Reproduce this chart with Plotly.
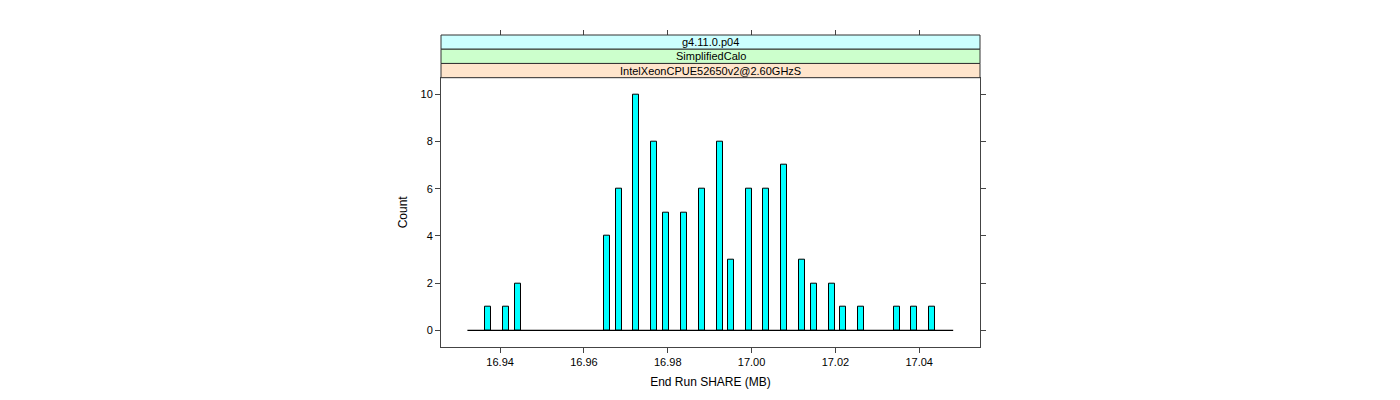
import plotly.graph_objects as go

# ---- data ----
bin_centers = [16.9372, 16.9415, 16.9443, 16.9654, 16.9683, 16.9725, 16.9768,
               16.9796, 16.9838, 16.9881, 16.9924, 16.9952, 16.9993, 17.0035,
               17.0078, 17.0121, 17.0149, 17.0191, 17.0219, 17.0262, 17.0346,
               17.0388, 17.0431]
counts = [1, 1, 2, 4, 6, 10, 8, 5, 5, 6, 8, 3, 6, 6, 7, 3, 2, 2, 1, 1, 1, 1, 1]
bin_width = 0.00143
breaks_range = [16.9322, 17.0481]
x_ticks = [16.94, 16.96, 16.98, 17.00, 17.02, 17.04]
x_tick_labels = ["16.94", "16.96", "16.98", "17.00", "17.02", "17.04"]
y_ticks = [0, 2, 4, 6, 8, 10]
strip_labels = ["g4.11.0.p04", "SimplifiedCalo", "IntelXeonCPUE52650v2@2.60GHzS"]
strip_colors = ["#CCFFFF", "#CCFFCC", "#FFE5CC"]
x_title = "End Run SHARE (MB)"
y_title = "Count"

xr = [16.9259, 17.0545]
yr = [-0.7, 10.7]

W, H = 1400, 400
off = 8  # page body margin
ml, mr, mt, mb = 441 - off, 1400 + off - 980, 35 - off, 400 + off - 347
plot_h = H - mt - mb
panel_top_px = 77.7 - off
ydom_top = (H - mb - panel_top_px) / plot_h

font = "Liberation Sans, Arial, sans-serif"
axcol = "#444444"

fig = go.Figure()
fig.add_trace(go.Scatter(x=breaks_range, y=[0, 0], mode="lines",
                         line=dict(color="black", width=1.2),
                         showlegend=False, hoverinfo="skip"))
fig.add_trace(go.Bar(x=bin_centers, y=counts, width=bin_width,
                     marker=dict(color="#00FFFF", line=dict(color="black", width=1)),
                     showlegend=False))
fig.add_trace(go.Scatter(x=[], y=[], xaxis="x2", yaxis="y2", showlegend=False))

fig.update_layout(
    width=W, height=H,
    margin=dict(l=ml, r=mr, t=mt, b=mb),
    paper_bgcolor="white", plot_bgcolor="white",
    font=dict(family=font, size=11, color="black"),
    bargap=0,
    xaxis=dict(range=xr, domain=[0, 1], tickvals=x_ticks, ticktext=x_tick_labels,
               ticks="outside", ticklen=5, tickcolor=axcol, showgrid=False,
               zeroline=False, showline=True, linecolor=axcol, linewidth=1, mirror=True,
               tickfont=dict(size=11), title=dict(text=x_title, font=dict(size=12), standoff=10)),
    yaxis=dict(range=yr, domain=[0, ydom_top], tickvals=y_ticks,
               ticks="outside", ticklen=5, tickcolor=axcol, showgrid=False,
               zeroline=False, showline=True, linecolor=axcol, linewidth=1, mirror=True,
               tickfont=dict(size=11), title=dict(text=y_title, font=dict(size=12), standoff=10)),
    xaxis2=dict(range=xr, overlaying="x", side="top", anchor="free", position=1,
                tickvals=x_ticks, ticks="outside", ticklen=5, tickcolor=axcol,
                showticklabels=False, showgrid=False, zeroline=False, showline=False),
    yaxis2=dict(range=yr, overlaying="y", side="right", anchor="x",
                tickvals=y_ticks, ticks="outside", ticklen=5, tickcolor=axcol,
                showticklabels=False, showgrid=False, zeroline=False, showline=False),
)

n = len(strip_labels)
strip_h = (1 - ydom_top) / n
for i, (lab, col) in enumerate(zip(strip_labels, strip_colors)):
    y1 = 1 - i * strip_h
    y0 = y1 - strip_h
    fig.add_shape(type="rect", xref="paper", yref="paper", x0=0, x1=1, y0=y0, y1=y1,
                  fillcolor=col, line=dict(color="#333333", width=1), layer="above")
    fig.add_annotation(xref="paper", yref="paper", x=0.5, y=(y0 + y1) / 2, text=lab,
                       showarrow=False, font=dict(size=11, color="black"),
                       xanchor="center", yanchor="middle")

fig.write_html("out.html")
